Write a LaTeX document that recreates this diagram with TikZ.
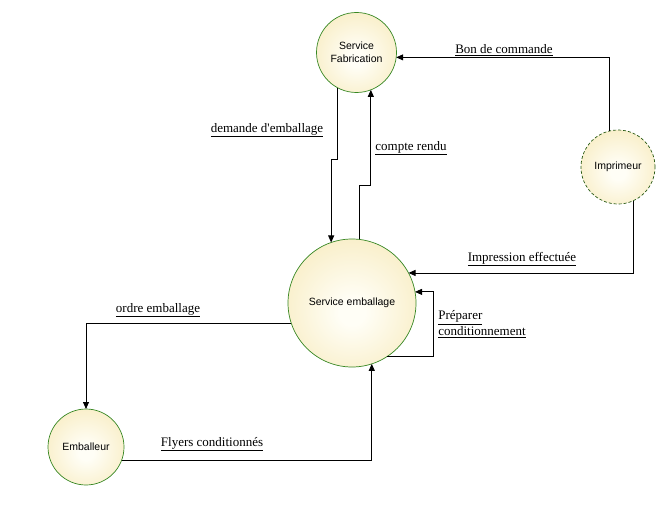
\documentclass[tikz,border=0pt]{standalone}
\usepackage{fontspec}
\setmainfont{Liberation Serif}
\newfontfamily\arialf{Liberation Sans}
\usetikzlibrary{arrows.meta}
\definecolor{yfill}{RGB}{243,224,158}
\definecolor{ylight}{RGB}{255,254,246}
\definecolor{gborder}{RGB}{55,135,35}
\definecolor{dborder}{RGB}{40,90,20}
\pgfdeclareradialshading{bubbleshade}{\pgfpoint{0bp}{-4bp}}{color(0bp)=(ylight);color(5bp)=(ylight);color(50bp)=(yfill)}
\begin{document}
\begin{tikzpicture}[x=1pt,y=-1pt,
  bubble/.style={circle, draw=gborder, line width=0.7pt, shade, shading=bubbleshade,
    inner sep=0pt, outer sep=0pt, align=center, text=black,
    font=\arialf\fontsize{10.5}{13}\selectfont},
  flow/.style={draw=black, line width=0.8pt, -{Triangle[length=7pt,width=6pt]}},
  lbl/.style={font=\fontsize{13}{15.5}\selectfont, inner sep=0pt, align=left}]
\useasboundingbox (0,0) rectangle (668,516);
\node[bubble, minimum size=80pt] (sf) at (356.5,52.5) {Service\\Fabrication};
\node[bubble, minimum size=74pt, draw=dborder, dash pattern=on 3pt off 2pt] (imp) at (618,167) {Imprimeur};
\node[bubble, minimum size=128pt] (se) at (352,303) {Service emballage};
\node[bubble, minimum size=76pt] (em) at (86,447) {Emballeur};

\draw[flow] (imp.104) |- (sf.353.5);
\draw[flow] (sf.242.5) -- (sf.242.5 |- 0,159) -| (se.109);
\draw[flow] (se.83.7) -- (se.83.7 |- 0,185) -| (sf.291.3);
\draw[flow] (imp.295.6) |- (se.28);
\draw[flow] (se.303) -- (se.303 -| 433,0) |- (se.10.8);
\draw[flow] (se.199.2) -| (em.north);
\draw[flow] (em.340) -| (se.288.2);

\node[lbl] (lbon) at (504,50) {\underline{Bon de commande}};
\node[lbl] (ldem) at (267,130) {\underline{demande d\textquotesingle emballage}};
\node[lbl] (lcr) at (411,148) {\underline{compte rendu}};
\node[lbl] (limp) at (522,259) {\underline{Impression effectuée}};
\node[lbl] (lprep) at (482,324) {\underline{Préparer}\\\underline{conditionnement}};
\node[lbl] (lord) at (158,310) {\underline{ordre emballage}};
\node[lbl] (lfly) at (212,444) {\underline{Flyers conditionnés}};
\end{tikzpicture}
\end{document}
